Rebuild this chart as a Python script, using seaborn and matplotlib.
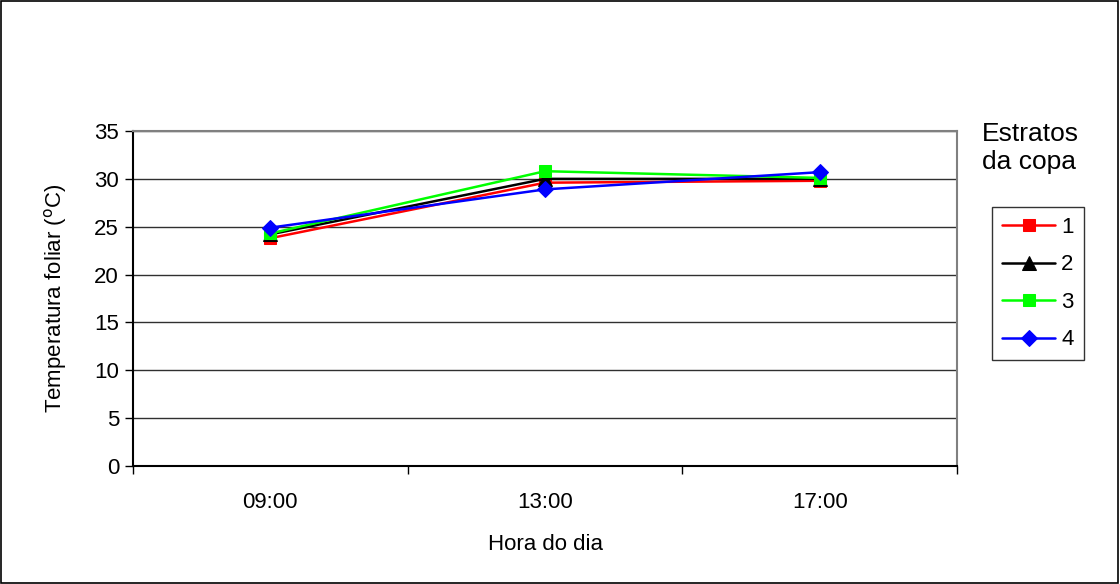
import matplotlib
matplotlib.use("Agg")
import matplotlib.pyplot as plt
import pandas as pd
import seaborn as sns
from matplotlib.patches import Rectangle

# ─── Data ────────────────────────────────────────────────────────────────────
hora = ["09:00", "13:00", "17:00"]
estrato_1 = [23.8, 29.6, 29.8]
estrato_2 = [24.2, 30.0, 30.0]
estrato_3 = [24.3, 30.8, 30.1]
estrato_4 = [24.9, 28.9, 30.7]

estratos = ["1", "2", "3", "4"]
cores = {"1": "#FF0000", "2": "#000000", "3": "#00FF00", "4": "#0000FF"}
marcadores = {"1": "s", "2": "^", "3": "s", "4": "D"}

df = pd.DataFrame({
    "hora": hora * 4,
    "temp": estrato_1 + estrato_2 + estrato_3 + estrato_4,
    "estrato": [e for e in estratos for _ in hora],
})

# ─── Plot ────────────────────────────────────────────────────────────────────
sns.set_style("white")
plt.rcParams["font.family"] = ["Liberation Sans", "DejaVu Sans"]
for key in ["text.color", "axes.labelcolor", "xtick.color", "ytick.color"]:
    plt.rcParams[key] = "black"
FS = 16

fig = plt.figure(figsize=(11.2, 5.84), dpi=100)
ax = fig.add_axes([133 / 1120, 1 - 466 / 584, (957 - 133) / 1120, (466 - 131) / 584])

sns.lineplot(
    data=df, x="hora", y="temp", hue="estrato", style="estrato",
    hue_order=estratos, style_order=estratos,
    palette=cores, markers=marcadores, dashes=False,
    markersize=8.5, linewidth=1.8, legend=False, ax=ax,
)
for line in ax.lines:
    line.set_markeredgecolor(line.get_color())
    if line.get_marker() == "^":
        line.set_markersize(9.5)
    if line.get_marker() == "D":
        line.set_markersize(8.5)

ax.set_xlim(-0.5, 2.5)
ax.set_ylim(0, 35)
ax.set_yticks(range(0, 36, 5))
ax.set_xticks([0, 1, 2])
ax.set_xticklabels(hora)
ax.set_xticks([-0.5, 0.5, 1.5, 2.5], minor=True)
ax.tick_params(axis="x", which="major", length=0, pad=19, labelsize=FS)
ax.tick_params(axis="x", which="minor", length=6, width=1, color="black", direction="out", bottom=True)
ax.tick_params(axis="y", length=6, width=1, color="black", direction="out", left=True, labelsize=FS, pad=4)

ax.grid(axis="y", color="#303030", linewidth=1)
ax.set_axisbelow(True)
for side in ["left", "bottom"]:
    ax.spines[side].set_color("black")
    ax.spines[side].set_linewidth(1.5)
for side in ["top", "right"]:
    ax.spines[side].set_color("#808080")
    ax.spines[side].set_linewidth(1.5)

ax.set_xlabel("Hora do dia", fontsize=FS, va="center")
ax.set_ylabel("Temperatura foliar ($^{\\mathrm{o}}$C)", fontsize=FS, va="center")
ax.xaxis.set_label_coords(0.5, (466 - 545) / 335)
ax.yaxis.set_label_coords((56 - 133) / 824, 0.5)

fig.text(982 / 1120, 1 - 148 / 584, "Estratos\nda copa", fontsize=19,
         ha="left", va="center", linespacing=1.25)

leg = ax.legend(
    handles=ax.lines[:4], labels=estratos,
    loc="upper left", bbox_to_anchor=(992 / 1120, 1 - 207 / 584),
    bbox_transform=fig.transFigure, fontsize=FS, frameon=True, fancybox=False,
    handlelength=2.4, handletextpad=0.27, labelspacing=0.74, borderpad=0.45,
    borderaxespad=0,
)
leg.get_frame().set_edgecolor("black")
leg.get_frame().set_linewidth(1)

fig.patches.append(Rectangle((0.001, 0.001), 0.997, 0.997, transform=fig.transFigure,
                             fill=False, edgecolor="black", linewidth=1.2))

fig.savefig("out.png", dpi=100)
